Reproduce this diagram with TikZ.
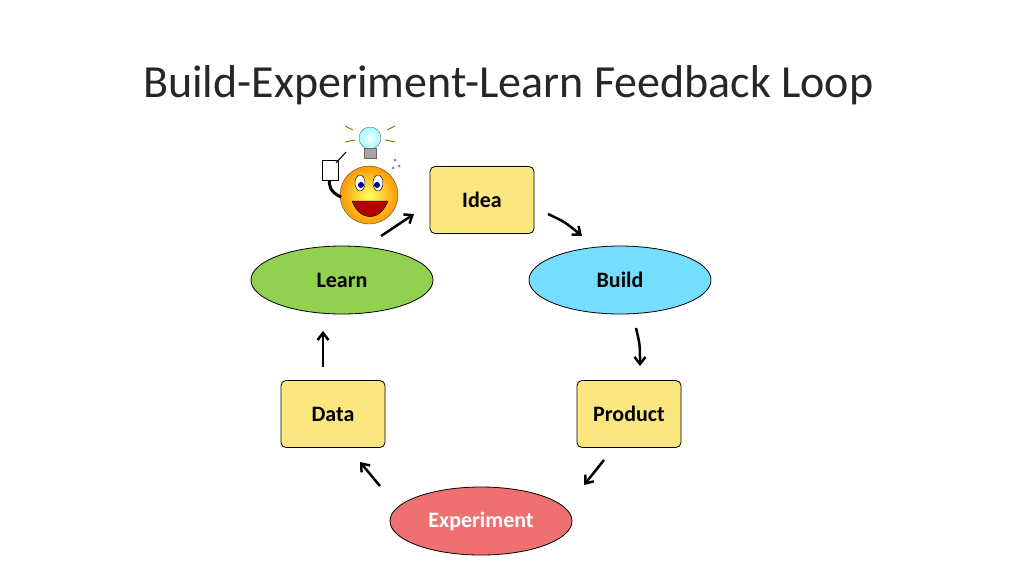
\documentclass[tikz,border=0pt]{standalone}
\usepackage{fontspec}
\setmainfont{Carlito}
\usetikzlibrary{shapes.geometric,arrows.meta}
\definecolor{boxy}{HTML}{FBE67F}
\definecolor{lgreen}{HTML}{92D050}
\definecolor{lblue}{HTML}{75DDFF}
\definecolor{lred}{HTML}{EE7070}
\begin{document}
\begin{tikzpicture}[x=1pt,y=-1pt,
  rbox/.style={draw=black,line width=0.8pt,fill=boxy,rounded corners=5pt,minimum width=104pt,minimum height=67pt,font=\fontsize{22}{26}\selectfont\bfseries},
  oval/.style={ellipse,draw=black,line width=0.8pt,minimum width=182pt,minimum height=68pt,font=\fontsize{22}{26}\selectfont\bfseries},
  arr/.style={line width=2.5pt,-{Straight Barb[length=7pt,width=11pt]}}]
\useasboundingbox (0,0) rectangle (1024,576);
\node[anchor=west,inner sep=0pt,text=black!85] (title) at (143,85) {\fontsize{46}{54}\selectfont Build-Experiment-Learn Feedback Loop};
\node[rbox] (idea) at (482,200) {Idea};
\node[oval,fill=lgreen] (learn) at (342,280) {Learn};
\node[oval,fill=lblue] (build) at (620,280) {Build};
\node[rbox] (data) at (333,414) {Data};
\node[rbox] (product) at (629,414) {Product};
\node[oval,fill=lred,text=white] (exp) at (481,521) {Experiment};
\coordinate (a1) at (381,236); \coordinate (a2) at (414,214);
\coordinate (b1) at (548,214); \coordinate (b2) at (582,236);
\coordinate (c1) at (636,328); \coordinate (c2) at (640,366);
\coordinate (d1) at (604,460); \coordinate (d2) at (584,485);
\coordinate (e1) at (380,486); \coordinate (e2) at (360,462);
\coordinate (f1) at (323,367); \coordinate (f2) at (323,331);
\draw[arr] (a1) -- (a2);
\draw[arr] (b1) .. controls (565,222) .. (b2);
\draw[arr] (c1) .. controls (640,345) .. (c2);
\draw[arr] (d1) -- (d2);
\draw[arr] (e1) -- (e2);
\draw[arr] (f1) -- (f2);
% smiley with bulb
\shade[inner color=yellow!60,outer color=orange!80!yellow,draw=black!70] (369,195) circle (29);
\fill[white,draw=black] (360,183) ellipse (5 and 8); \fill[white,draw=black] (378,183) ellipse (5 and 8);
\fill[blue!60!black] (361,185) circle (3); \fill[blue!60!black] (377,185) circle (3);
\fill[red!70!black,draw=black] (352,201) .. controls (360,222) and (380,222) .. (388,201) -- cycle;
\draw[line width=3pt] (341,197) .. controls (330,192) and (328,185) .. (330,178);
\fill[white,draw=black] (322,160) rectangle (338,180);
\draw[black,line width=1pt] (336,163) -- (346,152);
\shade[inner color=white,outer color=cyan!40,draw=black!60] (370,138) circle (11);
\fill[gray!70,draw=black!60] (364,148) rectangle (376,158);
\foreach \p/\q in {{(353,130)/(345,126)},{(355,140)/(345,142)},{(387,130)/(395,126)},{(385,140)/(395,142)}}
  \draw[olive,line width=1pt] \p -- \q;
\fill[violet!60] (395,160) circle (1.5) (399,166) circle (1.5) (393,168) circle (1.5);
\end{tikzpicture}
\end{document}
